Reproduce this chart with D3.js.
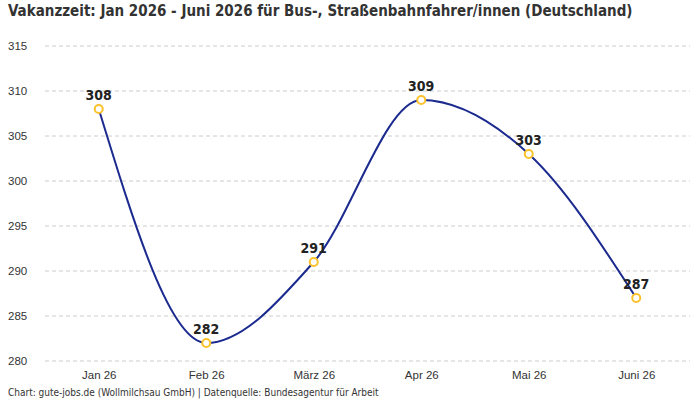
<!DOCTYPE html>
<html>
<head>
<meta charset="utf-8">
<script src="https://cdn.jsdelivr.net/npm/d3@7"></script>
<style>
  body { margin: 0; background: #fff; }
  svg { font-family: "DejaVu Sans Condensed", "Liberation Sans Narrow", "Roboto", sans-serif; }
</style>
</head>
<body>
<div id="chart"></div>
<script>
var months = ["Jan 26", "Feb 26", "März 26", "Apr 26", "Mai 26", "Juni 26"];
var vacancyDays = [308, 282, 291, 309, 303, 287];
var yTicks = [280, 285, 290, 295, 300, 305, 310, 315];

var width = 700,
  height = 400,
  margin = { top: 37, right: 10, bottom: 39, left: 45 };

var data = months.map(function (m, i) { return [m, vacancyDays[i]]; });

var svg = d3.select("#chart").append("svg")
  .attr("width", width)
  .attr("height", height);

var xScale = d3.scalePoint()
  .domain(months)
  .range([margin.left, width - margin.right])
  .padding(0.5);

var yScale = d3.scaleLinear()
  .domain([280, 316])
  .range([height - margin.bottom, margin.top]);

// grid lines
svg.append("g")
  .selectAll("line")
  .data(yTicks)
  .enter().append("line")
  .attr("x1", margin.left)
  .attr("x2", width - margin.right)
  .attr("y1", function (d) { return yScale(d); })
  .attr("y2", function (d) { return yScale(d); })
  .attr("stroke", "#ccc")
  .attr("stroke-dasharray", "4,3");

// y axis labels
var yAxis = svg.append("g")
  .attr("transform", "translate(8,0)")
  .call(d3.axisRight(yScale).tickValues(yTicks).tickSize(0));
yAxis.select(".domain").remove();
yAxis.selectAll("text")
  .attr("x", 0)
  .attr("font-size", 11.5)
  .attr("fill", "#333")
  .attr("text-anchor", "start");

// x axis labels
var xAxis = svg.append("g")
  .attr("transform", "translate(0," + (height - margin.bottom) + ")")
  .call(d3.axisBottom(xScale).tickSize(0).tickPadding(10));
xAxis.select(".domain").remove();
xAxis.selectAll("text")
  .attr("font-size", 11.5)
  .attr("fill", "#333");

var line = d3.line()
  .x(function (d) { return xScale(d[0]); })
  .y(function (d) { return yScale(d[1]); })
  .curve(d3.curveMonotoneX);

svg.append("path")
  .datum(data)
  .attr("fill", "none")
  .attr("stroke", "#1b2a8f")
  .attr("stroke-width", 2)
  .attr("d", line);

svg.append("g")
  .selectAll("circle")
  .data(data)
  .enter().append("circle")
  .attr("cx", function (d) { return xScale(d[0]); })
  .attr("cy", function (d) { return yScale(d[1]); })
  .attr("r", 4)
  .attr("fill", "#fff")
  .attr("stroke", "#fbc22c")
  .attr("stroke-width", 2);

svg.append("g")
  .selectAll("text")
  .data(data)
  .enter().append("text")
  .attr("x", function (d) { return xScale(d[0]); })
  .attr("y", function (d) { return yScale(d[1]) - 9; })
  .attr("text-anchor", "middle")
  .attr("font-size", 14)
  .attr("font-weight", "bold")
  .attr("fill", "#222")
  .text(function (d) { return d[1]; });

svg.append("text")
  .attr("x", 8)
  .attr("y", 16)
  .attr("font-size", 15)
  .attr("font-weight", "bold")
  .attr("fill", "#333")
  .text("Vakanzzeit: Jan 2026 - Juni 2026 für Bus-, Straßenbahnfahrer/innen (Deutschland)");

svg.append("text")
  .attr("x", 8)
  .attr("y", 396)
  .attr("font-size", 10)
  .attr("fill", "#333")
  .text("Chart: gute-jobs.de (Wollmilchsau GmbH) | Datenquelle: Bundesagentur für Arbeit");
</script>
</body>
</html>
